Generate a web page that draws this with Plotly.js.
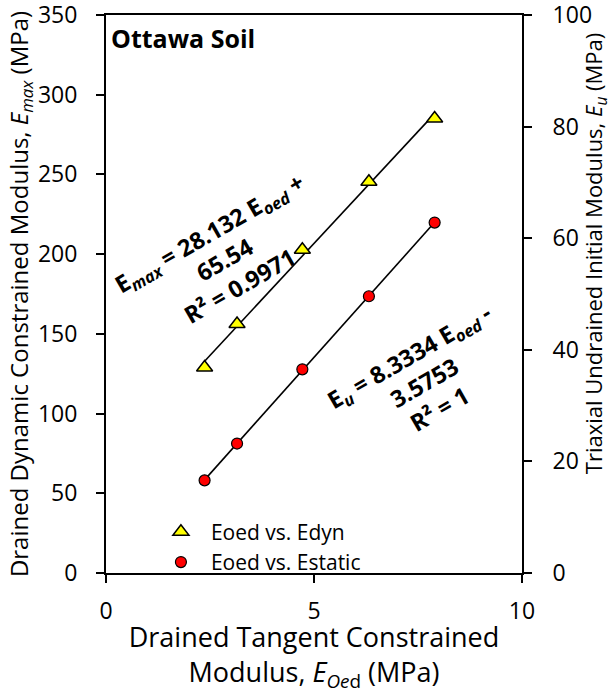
<!DOCTYPE html>
<html>
<head>
<meta charset="utf-8">
<script src="https://cdn.plot.ly/plotly-3.0.1.min.js"></script>
<style>html,body{margin:0;padding:0;background:#fff;}#chart{width:613px;height:694px;}</style>
</head>
<body>
<div id="chart"></div>
<script>
// Data
const seriesNames = ["Eoed vs. Edyn", "Eoed vs. Estatic"];
const eOed = [2.37, 3.15, 4.72, 6.32, 7.90];          // x: drained tangent constrained modulus (MPa)
const eDyn = [128.9, 156.2, 202.8, 245.4, 285.1];     // left axis: Emax (MPa)
const eStatic = [16.6, 23.2, 36.5, 49.6, 62.8];       // right axis: Eu (MPa)
const xTickVals = [0, 5, 10];
const leftTickVals = [0, 50, 100, 150, 200, 250, 300, 350];
const rightTickVals = [0, 20, 40, 60, 80, 100];

function linFit(x, y) {
  const n = x.length;
  const mx = x.reduce((a, b) => a + b, 0) / n;
  const my = y.reduce((a, b) => a + b, 0) / n;
  let sxy = 0, sxx = 0;
  for (let i = 0; i < n; i++) { sxy += (x[i] - mx) * (y[i] - my); sxx += (x[i] - mx) ** 2; }
  const m = sxy / sxx;
  return { m: m, b: my - m * mx };
}
const xr = [Math.min(...eOed), Math.max(...eOed)];
const fDyn = linFit(eOed, eDyn);
const fSta = linFit(eOed, eStatic);

const FONT = "Open Sans, Lato, sans-serif";

const traces = [
  { x: xr, y: xr.map(v => fDyn.m * v + fDyn.b), mode: "lines", line: { color: "#000", width: 1.6 },
    showlegend: false, hoverinfo: "skip", xaxis: "x", yaxis: "y" },
  { x: xr, y: xr.map(v => fSta.m * v + fSta.b), mode: "lines", line: { color: "#000", width: 1.6 },
    showlegend: false, hoverinfo: "skip", xaxis: "x", yaxis: "y2" },
  { x: eOed, y: eDyn, name: seriesNames[0], mode: "markers", xaxis: "x", yaxis: "y",
    marker: { symbol: "triangle-up", size: 14, color: "#FFFF00", line: { color: "#000", width: 1.5 } } },
  { x: eOed, y: eStatic, name: seriesNames[1], mode: "markers", xaxis: "x", yaxis: "y2",
    marker: { symbol: "circle", size: 11, color: "#FF0000", line: { color: "#000", width: 1.2 } } }
];

const axisCommon = {
  showgrid: false, zeroline: false, showline: true, linecolor: "#000", linewidth: 2,
  ticks: "outside", ticklen: 8, tickwidth: 2, tickcolor: "#000", ticklabeloverflow: "allow",
  tickfont: { family: FONT, size: 23, color: "#000" }
};

const layout = {
  width: 613, height: 694,
  margin: { l: 106, r: 91, t: 15, b: 121 },
  paper_bgcolor: "#fff", plot_bgcolor: "#fff",
  font: { family: FONT, color: "#000" },
  xaxis: Object.assign({}, axisCommon, {
    range: [0, 10], tickvals: xTickVals, mirror: true, ticklabelstandoff: 8,
    title: { text: "Drained Tangent Constrained<br>Modulus, <i>E</i><sub><i>Oe</i>d</sub> (MPa)",
             font: { family: FONT, size: 27, color: "#000" }, standoff: 0 }
  }),
  yaxis: Object.assign({}, axisCommon, {
    range: [0, 350], tickvals: leftTickVals, ticklabelstandoff: 14,
    title: { text: "Drained Dynamic Constrained Modulus, <i>E</i><sub><i>max</i></sub> (MPa)",
             font: { family: FONT, size: 24, color: "#000" }, standoff: 2 }
  }),
  yaxis2: Object.assign({}, axisCommon, {
    range: [0, 100], tickvals: rightTickVals, overlaying: "y", side: "right", ticklabelstandoff: 16
  }),
  showlegend: true,
  legend: {
    x: 0.108, xanchor: "left", y: 0.11, yanchor: "top",
    bgcolor: "rgba(0,0,0,0)", itemwidth: 50, traceorder: "normal",
    font: { family: FONT, size: 21, color: "#000" }
  },
  annotations: [
    { text: "<b>Ottawa Soil</b>", xref: "paper", yref: "paper", x: 0.008, y: 0.958,
      xanchor: "left", yanchor: "middle", showarrow: false,
      font: { family: FONT, size: 25, color: "#000" } },
    { text: "<b>E<sub><i>max</i></sub> = 28.132 E<sub><i>oed</i></sub> +<br>65.54<br>R² = 0.9971</b>",
      xref: "paper", yref: "paper", x: 0.284, y: 0.561, xanchor: "center", yanchor: "middle",
      showarrow: false, textangle: -30, font: { family: FONT, size: 23.5, color: "#000" } },
    { text: "<b>E<sub><i>u</i></sub> = 8.3334 E<sub><i>oed</i></sub> -<br>3.5753<br>R² = 1</b>",
      xref: "paper", yref: "paper", x: 0.764, y: 0.342, xanchor: "center", yanchor: "middle",
      showarrow: false, textangle: -30, font: { family: FONT, size: 23.5, color: "#000" } },
    { text: "Triaxial Undrained Initial Modulus, <i>E</i><sub><i>u</i></sub> (MPa)",
      xref: "paper", yref: "paper", x: 1.176, y: 0.5717, xanchor: "center", yanchor: "middle",
      showarrow: false, textangle: -90, font: { family: FONT, size: 22, color: "#000" } }
  ]
};

Plotly.newPlot("chart", traces, layout, { displayModeBar: false, staticPlot: true });
</script>
</body>
</html>
